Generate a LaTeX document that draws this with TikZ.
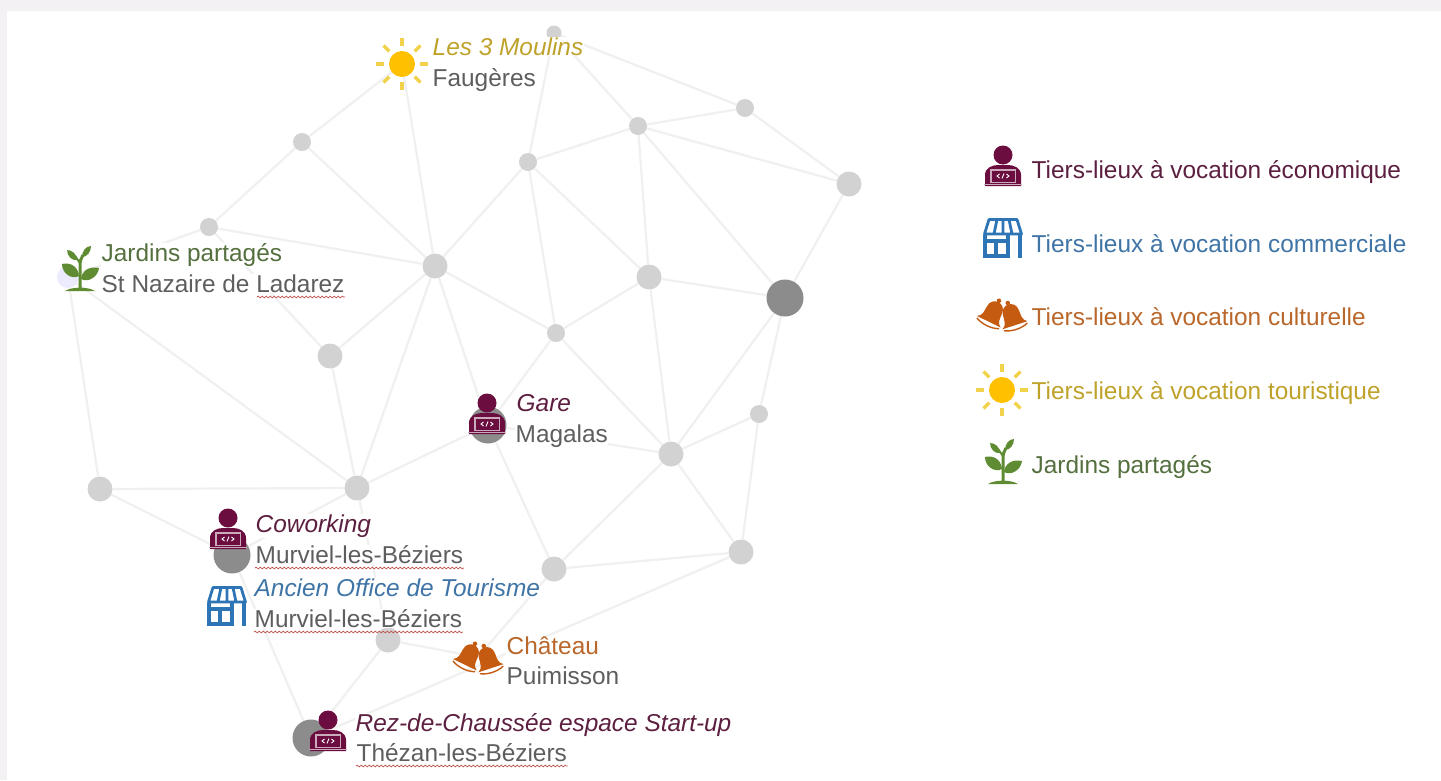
\documentclass[tikz,border=0pt]{standalone}
\usepackage{fontspec}
\setmainfont{Liberation Sans}
\usetikzlibrary{backgrounds,decorations.pathmorphing}
\definecolor{wine}{HTML}{6B0D3E}
\definecolor{winetxt}{HTML}{5C1F40}
\definecolor{shopblue}{HTML}{2E75B6}
\definecolor{bluetxt}{HTML}{3F74A6}
\definecolor{bell}{HTML}{C55A11}
\definecolor{belltxt}{HTML}{B9672B}
\definecolor{sunc}{HTML}{FFC000}
\definecolor{sunray}{HTML}{F2D24A}
\definecolor{suntxt}{HTML}{BFA22A}
\definecolor{plant}{HTML}{5F8C32}
\definecolor{planttxt}{HTML}{55703F}
\definecolor{greytxt}{HTML}{5E5E5E}
\definecolor{frame}{HTML}{F3F1F3}
\definecolor{edgec}{HTML}{F0F0F0}
\definecolor{nodec}{HTML}{D2D2D2}
\definecolor{darkn}{HTML}{8C8C8C}
\definecolor{wavec}{HTML}{C0504D}
\newcommand{\bellglyph}{%
  \fill[bell] (0,-15.5) circle (2.6);
  \fill[bell] (-15,11) .. controls (-9,8) and (-10,2) .. (-9.5,-4)
    .. controls (-9,-17) and (9,-17) .. (9.5,-4)
    .. controls (10,2) and (9,8) .. (15,11) -- cycle;
  \draw[bell,line width=1.4pt] (-14,13) .. controls (-6,17) and (6,17) .. (14,13);
}
\tikzset{
  net/.style={circle,fill=nodec,draw=none,inner sep=0pt},
  smalln/.style={net,minimum size=18pt},
  tiny/.style={net,minimum size=15pt},
  midn/.style={net,minimum size=25pt},
  bign/.style={net,fill=darkn,minimum size=37pt},
  link/.style={draw=edgec,line width=2.2pt},
  lab/.style={anchor=base west,inner sep=0.5pt,fill=white,font=\fontsize{24.4}{27}\selectfont},
  labi/.style={anchor=base west,inner sep=0.5pt,fill=white,font=\fontsize{24.4}{27}\selectfont\itshape},
  wave/.style={draw=wavec,line width=0.7pt,decorate,decoration={snake,amplitude=0.9pt,segment length=4pt}},
  pics/person/.style={code={
    \fill[wine] (0,-10) circle (9.5);
    \fill[wine] (-18,21) -- (-18,10) .. controls (-18,3) and (-11,0) .. (-5,0) -- (5,0)
      .. controls (11,0) and (18,3) .. (18,10) -- (18,21) -- cycle;
    \fill[white!65!wine] (-13,4) rectangle (13,18);
    \fill[wine] (-11.5,5.5) rectangle (11.5,16.5);
    \fill[white!65!wine] (-19,18.6) rectangle (19,19.6);
    \draw[white,line width=0.9pt] (-3.5,9) -- (-6,11) -- (-3.5,13) (3.5,9) -- (6,11) -- (3.5,13) (1,8.5) -- (-1,13.5);
  }},
  pics/shop/.style={code={
    \draw[shopblue,line width=2.8pt,line join=round]
      (-14,-18.5) -- (14,-18.5) -- (18.5,-4) -- (-18.5,-4) -- cycle
      (-6,-18.5) -- (-9,-4) (0,-18.5) -- (0,-4) (6,-18.5) -- (9,-4);
    \draw[shopblue,line width=3.4pt,line join=miter]
      (-18,-3) -- (-18,18) -- (5,18) -- (5,-3)
      (17,-3) -- (17,20)
      (-18,3) -- (5,3) (-7,3) -- (-7,18);
  }},
  pics/bells/.style={code={
    \begin{scope}[shift={(-9,-1)},rotate=-26,scale=.88] \bellglyph \end{scope}
    \begin{scope}[shift={(10,2)},rotate=18,scale=.88] \bellglyph \end{scope}
  }},
  pics/sunny/.style={code={
    \foreach \a in {0,45,...,315} {
      \draw[sunray,line width=3.5pt] (\a:18) -- (\a:26);
    }
    \fill[sunc] (0,0) circle (13);
  }},
  pics/sprout/.style={code={
    \draw[plant,line width=3pt] (0,20) -- (0,-4) .. controls (0,-9) and (1,-12) .. (3,-15);
    \draw[plant,line width=2pt] (0,-7) -- (-5,-14);
    \fill[plant] (-15,21) .. controls (-8,16.5) and (8,16.5) .. (15,21) -- cycle;
    \fill[plant] (-1,6) .. controls (-2,-4) and (-10,-8) .. (-18,-6) .. controls (-18,3) and (-9,10) .. (-1,6) -- cycle;
    \fill[plant] (1,9) .. controls (2,0) and (10,-4) .. (19,-2) .. controls (18,7) and (8,13) .. (1,9) -- cycle;
    \fill[plant] (-3,-10) .. controls (-3,-16) and (-8,-20) .. (-13,-20) .. controls (-13,-14) and (-8,-9) .. (-3,-10) -- cycle;
    \fill[plant] (2,-13) .. controls (2,-19) and (6,-24) .. (11,-24) .. controls (11,-18) and (7,-13) .. (2,-13) -- cycle;
  }}
}
\begin{document}
\begin{tikzpicture}[x=1pt,y=-1pt]
\useasboundingbox (0,0) rectangle (1441,780);
% network nodes
\node[tiny]   (a) at (554,33) {};
\node[smalln] (b) at (745,108) {};
\node[smalln] (c) at (638,126) {};
\node[midn]   (d) at (849,184) {};
\node[smalln] (e) at (528,162) {};
\node[smalln] (f) at (302,142) {};
\node[smalln] (g) at (209,227) {};
\node[midn]   (h) at (435,266) {};
\node[midn]   (i) at (649,277) {};
\node[bign]   (j) at (785,298) {};
\node[smalln] (k) at (556,333) {};
\node[midn]   (l) at (330,356) {};
\node[smalln] (n) at (759,414) {};
\node[midn]   (o) at (671,454) {};
\node[midn]   (p) at (100,489) {};
\node[midn]   (q) at (357,488) {};
\node[midn]   (s) at (554,569) {};
\node[midn]   (t) at (741,552) {};
\node[midn]   (u) at (388,640) {};
\node[bign]   (m) at (488,425) {};
\node[bign]   (r) at (232,555) {};
\node[bign]   (w) at (311,738) {};
\node[net,fill=black!8!blue!8!white,minimum size=22pt] (x) at (68,277) {};
\coordinate (y) at (402,64);
\coordinate (v) at (478,657);
\begin{scope}[on background layer]
  \fill[frame] (0,0) rectangle (1441,780);
  \fill[white] (7,11) rectangle (1441,780);
  \foreach \s/\e in {y/f,y/h,f/g,f/h,g/h,g/x,g/l,x/p,x/q,h/l,h/q,h/m,h/k,h/e,e/a,e/c,e/k,e/i,
    a/c,a/b,c/b,c/d,b/d,c/i,c/j,d/j,i/j,i/k,i/o,k/m,k/o,j/o,j/n,n/o,n/t,o/t,o/s,m/o,m/s,m/q,
    l/q,p/q,p/r,q/r,q/u,r/w,s/t,s/v,t/w,u/v,u/w}
    \draw[link] (\s) -- (\e);
\end{scope}
% map labels
\node[labi,text=suntxt] (moulT) at (432,55) {Les 3 Moulins};
\node[lab,text=greytxt] (moulB) at (432,86) {Faugères};
\node[lab,text=planttxt] (jardT) at (101,261) {Jardins partagés};
\node[lab,text=greytxt] (jardB) at (101,292) {St Nazaire de Ladarez};
\node[labi,text=winetxt] (gareT) at (516,411) {Gare};
\node[lab,text=greytxt] (gareB) at (515,442) {Magalas};
\node[labi,text=winetxt] (cowT) at (255,532) {Coworking};
\node[lab,text=greytxt] (cowB) at (255,563) {Murviel-les-Béziers};
\node[labi,text=bluetxt] (ofT) at (254,596) {Ancien Office de Tourisme};
\node[lab,text=greytxt] (ofB) at (254,627) {Murviel-les-Béziers};
\node[lab,text=belltxt] (chT) at (506,654) {Château};
\node[lab,text=greytxt] (chB) at (506,684) {Puimisson};
\node[labi,text=winetxt] (rezT) at (355,731) {Rez-de-Chaussée espace Start-up};
\node[lab,text=greytxt] (rezB) at (356,761) {Thézan-les-Béziers};
% spell-check underlines
\draw[wave] ([shift={(156pt,-5pt)}]jardB.base west) -- ([yshift=-5pt]jardB.base east);
\draw[wave] ([yshift=-5pt]cowB.base west) -- ([yshift=-5pt]cowB.base east);
\draw[wave] ([yshift=-5pt]ofB.base west) -- ([yshift=-5pt]ofB.base east);
\draw[wave] ([yshift=-5pt]rezB.base west) -- ([yshift=-5pt]rezB.base east);
% map icons
\pic at (402,64) {sunny};
\pic at (80,270) {sprout};
\pic at (487,413) {person};
\pic at (228,528) {person};
\pic at (227,606) {shop};
\pic at (478,657) {bells};
\pic at (328,730) {person};
% legend
\pic at (1003,165) {person};
\pic at (1003,238) {shop};
\pic at (1002,314) {bells};
\pic at (1002,390) {sunny};
\pic at (1003,463) {sprout};
\node[lab,text=winetxt] (leg1) at (1031,178) {Tiers-lieux à vocation économique};
\node[lab,text=bluetxt] (leg2) at (1031,252) {Tiers-lieux à vocation commerciale};
\node[lab,text=belltxt] (leg3) at (1031,325) {Tiers-lieux à vocation culturelle};
\node[lab,text=suntxt] (leg4) at (1031,399) {Tiers-lieux à vocation touristique};
\node[lab,text=planttxt] (leg5) at (1031,473) {Jardins partagés};
\end{tikzpicture}
\end{document}
